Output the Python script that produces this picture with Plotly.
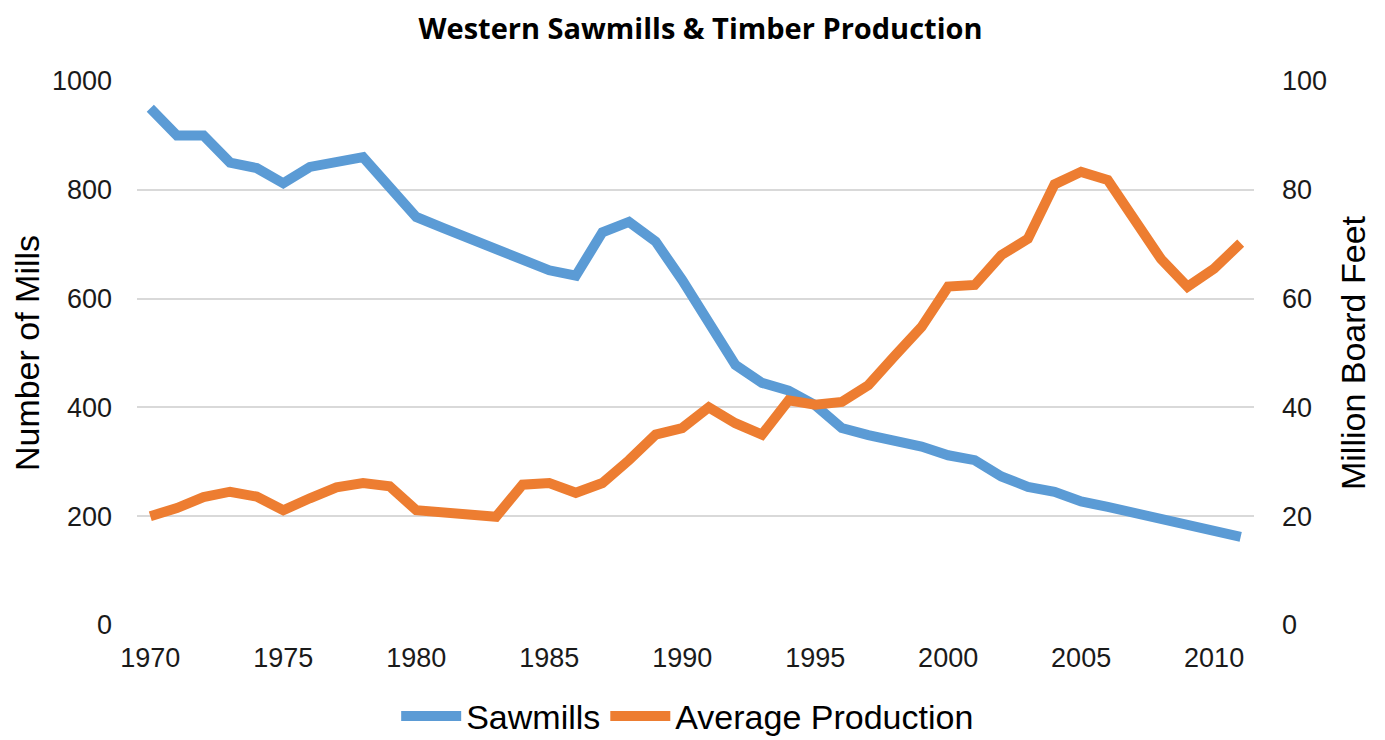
import plotly.graph_objects as go

years = list(range(1970, 2012))
sawmills = [950, 900, 900, 850, 840, 812, 842, 850, 860, 805,
            750, 730, 710, 690, 670, 652, 642, 722, 741, 705,
            634, 555, 478, 445, 431, 404, 362, 349, 340, 328,
            312, 303, 273, 254, 245, 227, 217, 206, 195, 184,
            173, 162]
avg_production = [20.0, 21.5, 23.5, 24.5, 23.6, 21.1, 23.3, 25.3, 26.1, 25.5,
                  21.1, 20.6, 20.2, 19.9, 25.8, 26.1, 24.3, 26.1, 30.3, 35.0,
                  36.2, 40.0, 37.1, 35.0, 41.3, 40.5, 41.0, 44.1, 49.5, 54.8,
                  62.2, 62.5, 68.0, 71.0, 81.0, 83.3, 81.8, 74.9, 67.3, 62.2,
                  65.5, 70.2]
x_ticks = [1970, 1975, 1980, 1985, 1990, 1995, 2000, 2005, 2010]
left_ticks = [0, 200, 400, 600, 800, 1000]
right_ticks = [0, 20, 40, 60, 80, 100]

BLUE = "#5B9BD5"
ORANGE = "#ED7D31"
ARIAL = "Liberation Sans, Arial, sans-serif"
TICKFONT = dict(family=ARIAL, size=27, color="#1a1a1a")
TITLEFONT = dict(family=ARIAL, size=34, color="#000000")

fig = go.Figure()
fig.add_trace(go.Scatter(x=years, y=sawmills, name="Sawmills", mode="lines",
                         line=dict(color=BLUE, width=10), yaxis="y"))
fig.add_trace(go.Scatter(x=years, y=avg_production, name="Average Production", mode="lines",
                         line=dict(color=ORANGE, width=10), yaxis="y2"))

fig.update_layout(
    width=1385, height=740,
    paper_bgcolor="white", plot_bgcolor="white",
    margin=dict(l=129, r=139, t=73, b=123, autoexpand=False),
    title=dict(text="<b>Western Sawmills &amp; Timber Production</b>",
               x=0.5, xanchor="center", y=0.985, yanchor="top",
               font=dict(family="Open Sans, sans-serif", size=29, color="#000000")),
    xaxis=dict(range=[1969.5, 2011.5], tickvals=x_ticks, showgrid=False,
               zeroline=False, showline=False, ticks="", tickfont=TICKFONT,
               ticklabelstandoff=14),
    yaxis=dict(range=[0, 1000], tickvals=left_ticks, showgrid=True,
               gridcolor="#D9D9D9", gridwidth=1.5, zeroline=False, showline=False,
               ticks="", tickfont=TICKFONT, ticklabelstandoff=24,
               title=dict(text="Number of Mills", standoff=4, font=TITLEFONT)),
    yaxis2=dict(range=[0, 100], tickvals=right_ticks, overlaying="y", side="right",
                showgrid=False, zeroline=False, showline=False, ticks="",
                tickfont=TICKFONT, ticklabelstandoff=27,
                title=dict(text="Million Board Feet", standoff=15, font=TITLEFONT)),
    legend=dict(orientation="h", x=0.493, xanchor="center", y=-0.168, yanchor="middle",
                font=TITLEFONT, itemwidth=60),
    showlegend=True,
)

fig.write_html("out.html")
